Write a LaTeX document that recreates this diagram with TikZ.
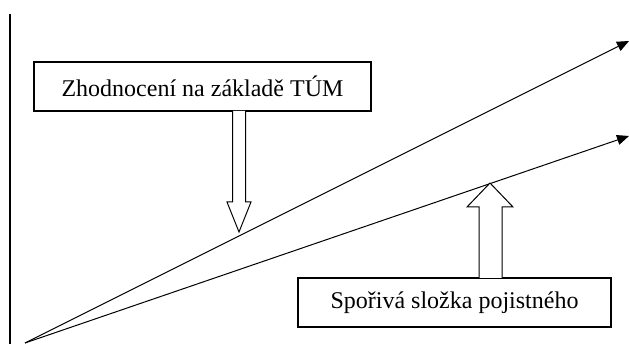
\documentclass[tikz,border=0pt]{standalone}
\usepackage{fontspec}
\setmainfont{Liberation Serif}
\usetikzlibrary{arrows.meta,calc}
\begin{document}
\begin{tikzpicture}[x=1pt,y=1pt,
  labelbox/.style={draw,line width=1.4pt,minimum height=49pt,inner sep=0pt,font=\fontsize{24}{26}\selectfont},
  trend/.style={line width=1pt,-{Triangle[length=12pt,width=10pt]}},
  hollow/.style={draw,line width=1pt,fill=white,line join=miter}]
\useasboundingbox (0,0) rectangle (629,344);
\coordinate (axtop) at (10,330);
\coordinate (axbot) at (10,0);
\coordinate (O) at (25,1);
\coordinate (T1) at (629,303);
\coordinate (T2) at (629,208);
\draw[line width=1.2pt] (axbot) -- (axtop);
\draw[trend] (O) -- (T1);
\draw[trend] (O) -- (T2);
\node[labelbox,minimum width=337pt] (b1) at (202.5,257.5) {Zhodnocení na základě TÚM};
\node[labelbox,minimum width=313pt] (b2) at (454.5,41.5) {Spořivá složka pojistného};
% down hollow arrow
\draw[hollow] (232.5,233) -- (232.5,142) -- (227,142) -- (239,112) -- (251,142) -- (245.5,142) -- (245.5,233);
% up hollow arrow
\draw[hollow] (479,66) -- (479,137) -- (467,137) -- (490,161) -- (513,137) -- (502,137) -- (502,66);
\end{tikzpicture}
\end{document}
